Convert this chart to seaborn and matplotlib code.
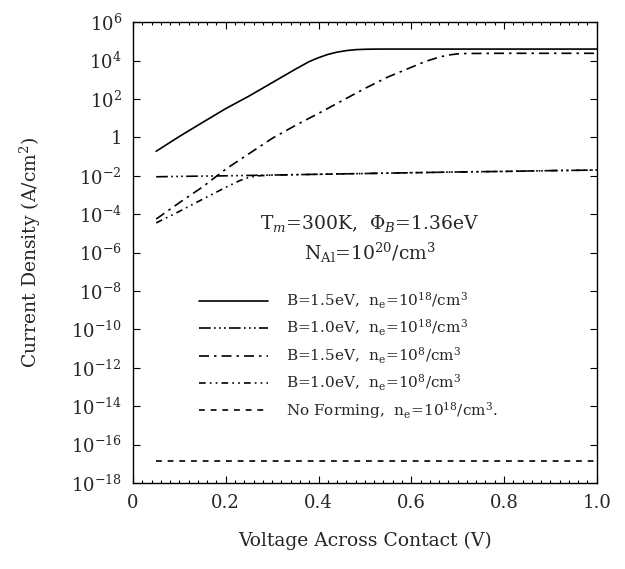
import numpy as np
import pandas as pd
import matplotlib
matplotlib.use("Agg")
import matplotlib.pyplot as plt
import seaborn as sns
from matplotlib.ticker import FixedLocator, MultipleLocator

# ---- data (log10 of current density, A/cm^2) ----
v_solid = [0.05, 0.10, 0.15, 0.20, 0.25, 0.30, 0.35, 0.38, 0.40, 0.42, 0.44, 0.46, 0.48, 0.50, 0.53, 0.60, 0.70, 0.80, 0.90, 1.00]
j_solid = [-0.72, 0.05, 0.78, 1.50, 2.15, 2.85, 3.55, 3.95, 4.15, 4.32, 4.44, 4.52, 4.57, 4.59, 4.60, 4.60, 4.60, 4.60, 4.60, 4.60]

v_b10_hi = [0.05, 0.10, 0.20, 0.30, 0.40, 0.50, 0.60, 0.70, 0.80, 0.90, 1.00]
j_b10_hi = [-2.05, -2.03, -2.00, -1.96, -1.92, -1.88, -1.84, -1.80, -1.77, -1.73, -1.70]

v_b15_lo = [0.05, 0.10, 0.15, 0.20, 0.25, 0.30, 0.35, 0.40, 0.45, 0.50, 0.55, 0.60, 0.63, 0.66, 0.68, 0.70, 0.72, 0.80, 0.90, 1.00]
j_b15_lo = [-4.25, -3.40, -2.58, -1.65, -0.85, -0.05, 0.62, 1.25, 1.90, 2.55, 3.15, 3.65, 3.95, 4.18, 4.29, 4.35, 4.37, 4.38, 4.38, 4.38]

v_b10_lo = [0.05, 0.10, 0.15, 0.20, 0.23, 0.25, 0.27, 0.30, 0.40, 0.50, 0.60, 0.70, 0.80, 0.90, 1.00]
j_b10_lo = [-4.45, -3.85, -3.22, -2.60, -2.25, -2.08, -2.00, -1.96, -1.92, -1.88, -1.84, -1.80, -1.77, -1.73, -1.70]

v_nofrm = [0.05, 0.20, 0.40, 0.60, 0.80, 1.00]
j_nofrm = [-16.85, -16.85, -16.85, -16.85, -16.85, -16.85]

labels = [
    r"B=1.5eV,  n$_\mathregular{e}$=10$^{18}$/cm$^3$",
    r"B=1.0eV,  n$_\mathregular{e}$=10$^{18}$/cm$^3$",
    r"B=1.5eV,  n$_\mathregular{e}$=10$^{8}$/cm$^3$",
    r"B=1.0eV,  n$_\mathregular{e}$=10$^{8}$/cm$^3$",
    r"No Forming,  n$_\mathregular{e}$=10$^{18}$/cm$^3$.",
]
ytick_exp = list(range(-18, 7, 2))
xticks = [0, 0.2, 0.4, 0.6, 0.8, 1.0]
xtick_labels = ["0", "0.2", "0.4", "0.6", "0.8", "1.0"]

sns.set_theme(style="ticks")
plt.rcParams["font.family"] = ["DejaVu Serif"]
plt.rcParams["mathtext.fontset"] = "dejavuserif"

fig = plt.figure(figsize=(6.25, 5.69), dpi=100)
ax = fig.add_axes([0.2128, 0.151, 0.742, 0.810])

series = [
    (v_solid, j_solid, "-"),
    (v_b10_hi, j_b10_hi, (0, (7, 2, 1, 2, 1, 2, 1, 2))),
    (v_b15_lo, j_b15_lo, (0, (6, 3, 1.5, 3))),
    (v_b10_lo, j_b10_lo, (0, (4, 2.5, 1, 2.5, 1, 2.5))),
    (v_nofrm, j_nofrm, (0, (3.5, 3.5))),
]
for (vx, jy, ls), lab in zip(series, labels):
    df = pd.DataFrame({"V": vx, "J": np.power(10.0, jy)})
    sns.lineplot(data=df, x="V", y="J", ax=ax, color="black", linewidth=1.2,
                 linestyle=ls, label=lab)

ax.set_yscale("log")
ax.set_ylim(1e-18, 1e6)
ax.set_xlim(0, 1.0)
ax.yaxis.set_major_locator(FixedLocator([10.0 ** k for k in ytick_exp]))
ax.yaxis.set_minor_locator(FixedLocator([]))
ax.set_yticklabels(["1" if k == 0 else r"10$^{%d}$" % k for k in ytick_exp])
ax.set_xticks(xticks)
ax.set_xticklabels(xtick_labels)
ax.xaxis.set_minor_locator(MultipleLocator(0.02))

ax.tick_params(axis="both", which="both", direction="in", top=True, right=True,
               color="black", width=0.8)
ax.tick_params(axis="both", which="major", length=5, labelsize=13, pad=8)
ax.tick_params(axis="x", which="minor", length=2.5)
for s in ax.spines.values():
    s.set_color("black")
    s.set_linewidth(1.0)

ax.set_xlabel("Voltage Across Contact (V)", fontsize=13.5, labelpad=14)
ax.set_ylabel(r"Current Density (A/cm$^2$)", fontsize=13.5, labelpad=20)

ax.text(0.51, 0.564, r"T$_m$=300K,  $\Phi_B$=1.36eV", transform=ax.transAxes,
        ha="center", va="center", fontsize=13.5)
ax.text(0.51, 0.499, r"N$_{\mathregular{Al}}$=10$^{20}$/cm$^3$", transform=ax.transAxes,
        ha="center", va="center", fontsize=13.5)

leg = ax.legend(loc="upper left", bbox_to_anchor=(0.13, 0.43), frameon=False,
                fontsize=11, handlelength=4.5, handletextpad=1.2, labelspacing=0.45,
                borderaxespad=0)

fig.savefig("out.png", dpi=100)
